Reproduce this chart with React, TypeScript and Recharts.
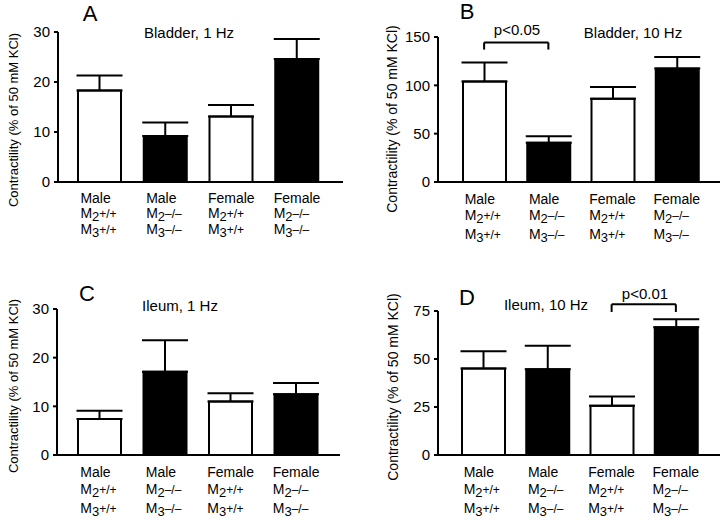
import React from 'react';
import {
  BarChart,
  Bar,
  Cell,
  XAxis,
  YAxis,
  ErrorBar,
  ReferenceLine,
} from 'recharts';

// categories, shared by all four panels
const sexes = ['Male', 'Male', 'Female', 'Female'];
const m2Genotype = ['+/+', '–/–', '+/+', '–/–'];
const m3Genotype = ['+/+', '–/–', '+/+', '–/–'];
const barFills = ['#ffffff', '#000000', '#ffffff', '#000000'];

// mean contractility (% of 50 mM KCl) and upper SEM
const bladder1Hz = [18.3, 9.2, 13.1, 24.6];
const bladder1HzErr = [3.0, 2.7, 2.3, 4.0];
const bladder10Hz = [104, 40.7, 86, 117.5];
const bladder10HzErr = [19.7, 6.7, 12.2, 11.8];
const ileum1Hz = [7.4, 17.1, 11.0, 12.5];
const ileum1HzErr = [1.7, 6.5, 1.7, 2.3];
const ileum10Hz = [45.1, 44.7, 25.6, 66.5];
const ileum10HzErr = [9.0, 12.2, 4.9, 4.2];

const ticksA = [0, 10, 20, 30];
const ticksB = [0, 50, 100, 150];
const ticksC = [0, 10, 20, 30];
const ticksD = [0, 25, 50, 75];

const FONT = '"Liberation Sans", Arial, Helvetica, sans-serif';
const Y_LABEL = 'Contractility (% of 50 mM KCl)';

const buildRows = (vals: number[], errs: number[]) =>
  vals.map((v, i) => ({
    name: `${sexes[i]} M2${m2Genotype[i]} M3${m3Genotype[i]}`,
    idx: i,
    value: v,
    err: [0, errs[i]],
  }));

const CategoryTick = (props: any) => {
  const { x, y, payload, lines } = props;
  const i = sexes.findIndex(
    (s, k) => `${s} M2${m2Genotype[k]} M3${m3Genotype[k]}` === payload.value
  );
  const left = x + (sexes[i] === 'Female' ? -23.5 : -19.5);
  return (
    <g>
      <text x={left} y={y + lines[0]} fontSize={14} fill="#000">
        {sexes[i]}
      </text>
      <text x={left} y={y + lines[1]} fontSize={14} fill="#000">
        M<tspan fontSize={13} dy={3}>2</tspan>
        <tspan fontSize={12} dy={-3}>{m2Genotype[i]}</tspan>
      </text>
      <text x={left} y={y + lines[2]} fontSize={14} fill="#000">
        M<tspan fontSize={13} dy={3}>3</tspan>
        <tspan fontSize={12} dy={-3}>{m3Genotype[i]}</tspan>
      </text>
    </g>
  );
};

interface PanelProps {
  left: number;
  top: number;
  values: number[];
  errors: number[];
  ticks: number[];
  axisWidth: number;
  marginTop: number;
  marginRight: number;
  axisHeight: number;
  padLeft: number;
  padRight: number;
  lines: number[];
  bracket?: { from: number; to: number; y: number; foot: number };
}

const Panel = (p: PanelProps) => {
  const rows = buildRows(p.values, p.errors);
  const max = p.ticks[p.ticks.length - 1];
  return (
    <div style={{ position: 'absolute', left: p.left, top: p.top }}>
      <BarChart
        width={360}
        height={261}
        data={rows}
        margin={{ top: p.marginTop, right: p.marginRight, left: 0, bottom: 0 }}
        barCategoryGap={0}
      >
        <XAxis
          dataKey="name"
          type="category"
          interval={0}
          height={p.axisHeight}
          tickLine={false}
          tickSize={0}
          tickMargin={0}
          axisLine={{ stroke: '#000', strokeWidth: 2 }}
          padding={{ left: p.padLeft, right: p.padRight }}
          tick={<CategoryTick lines={p.lines} />}
        />
        <YAxis
          type="number"
          domain={[0, max]}
          ticks={p.ticks}
          width={p.axisWidth}
          tickSize={4}
          tickMargin={4}
          axisLine={{ stroke: '#000', strokeWidth: 2 }}
          tickLine={{ stroke: '#000', strokeWidth: 2 }}
          tick={{ fill: '#000', fontSize: 15 }}
        />
        <Bar
          dataKey="value"
          barSize={43}
          stroke="#000"
          strokeWidth={2}
          isAnimationActive={false}
        >
          {rows.map((r) => (
            <Cell key={r.name} fill={barFills[r.idx]} />
          ))}
          <ErrorBar
            dataKey="err"
            direction="y"
            width={23}
            stroke="#000"
            strokeWidth={2}
            isAnimationActive={false}
          />
        </Bar>
        {p.bracket && (
          <ReferenceLine
            ifOverflow="visible"
            stroke="#000"
            strokeWidth={2}
            segment={[
              { x: rows[p.bracket.from].name, y: p.bracket.y },
              { x: rows[p.bracket.to].name, y: p.bracket.y },
            ]}
          />
        )}
        {p.bracket && (
          <ReferenceLine
            ifOverflow="visible"
            stroke="#000"
            strokeWidth={2}
            segment={[
              { x: rows[p.bracket.from].name, y: p.bracket.y },
              { x: rows[p.bracket.from].name, y: p.bracket.foot },
            ]}
          />
        )}
        {p.bracket && (
          <ReferenceLine
            ifOverflow="visible"
            stroke="#000"
            strokeWidth={2}
            segment={[
              { x: rows[p.bracket.to].name, y: p.bracket.y },
              { x: rows[p.bracket.to].name, y: p.bracket.foot },
            ]}
          />
        )}
      </BarChart>
    </div>
  );
};

const Txt = ({ x, y, size, children, rotate }: any) => (
  <div
    style={{
      position: 'absolute',
      left: x,
      top: y,
      transform: `translate(-50%, -50%)${rotate ? ' rotate(-90deg)' : ''}`,
      fontSize: size,
      whiteSpace: 'nowrap',
      lineHeight: 1,
      color: '#000',
    }}
  >
    {children}
  </div>
);

export default function App() {
  return (
    <div
      style={{
        position: 'absolute',
        left: 0,
        top: 0,
        width: 720,
        height: 522,
        background: '#fff',
        fontFamily: FONT,
        overflow: 'hidden',
      }}
    >
      <Panel
        left={0}
        top={0}
        values={bladder1Hz}
        errors={bladder1HzErr}
        ticks={ticksA}
        axisWidth={58}
        marginTop={32}
        marginRight={17}
        axisHeight={79}
        padLeft={9}
        padRight={13}
        lines={[21, 36, 52]}
      />
      <Panel
        left={360}
        top={0}
        values={bladder10Hz}
        errors={bladder10HzErr}
        ticks={ticksB}
        axisWidth={78}
        marginTop={37}
        marginRight={0}
        axisHeight={79}
        padLeft={14}
        padRight={11}
        lines={[22, 38, 57]}
        bracket={{ from: 0, to: 1, y: 144.4, foot: 137 }}
      />
      <Panel
        left={0}
        top={261}
        values={ileum1Hz}
        errors={ileum1HzErr}
        ticks={ticksC}
        axisWidth={57}
        marginTop={48}
        marginRight={20}
        axisHeight={67}
        padLeft={10}
        padRight={11}
        lines={[22, 38.5, 58]}
      />
      <Panel
        left={360}
        top={261}
        values={ileum10Hz}
        errors={ileum10HzErr}
        ticks={ticksD}
        axisWidth={78}
        marginTop={50}
        marginRight={0}
        axisHeight={67}
        padLeft={13}
        padRight={12}
        lines={[22, 38.5, 58]}
        bracket={{ from: 2, to: 3, y: 78.5, foot: 74.5 }}
      />

      <Txt x={90} y={14} size={22}>A</Txt>
      <Txt x={189} y={32} size={15}>Bladder, 1 Hz</Txt>
      <Txt x={467} y={12} size={22}>B</Txt>
      <Txt x={633} y={32} size={15}>Bladder, 10 Hz</Txt>
      <Txt x={517} y={29} size={15}>p&lt;0.05</Txt>
      <Txt x={87} y={294} size={22}>C</Txt>
      <Txt x={180} y={305} size={15}>Ileum, 1 Hz</Txt>
      <Txt x={467} y={298} size={22}>D</Txt>
      <Txt x={546} y={304} size={15}>Ileum, 10 Hz</Txt>
      <Txt x={645} y={293} size={15}>p&lt;0.01</Txt>

      <Txt x={13} y={120} size={13} rotate>{Y_LABEL}</Txt>
      <Txt x={392} y={119} size={14} rotate>{Y_LABEL}</Txt>
      <Txt x={13} y={386} size={13} rotate>{Y_LABEL}</Txt>
      <Txt x={393} y={387} size={14} rotate>{Y_LABEL}</Txt>
    </div>
  );
}
